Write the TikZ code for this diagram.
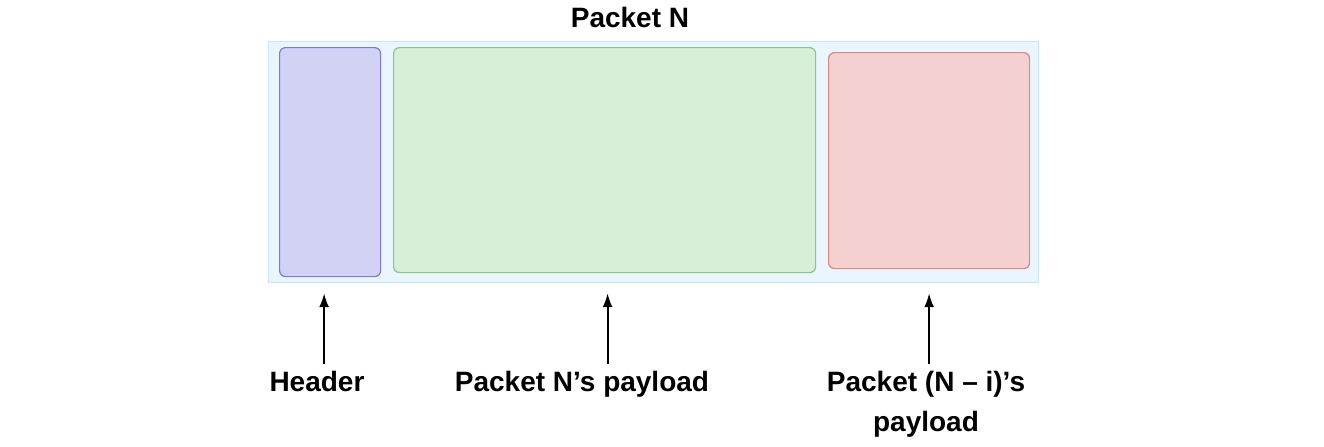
\documentclass[tikz,border=0pt]{standalone}
\usepackage{fontspec}
\setmainfont{Liberation Sans}
\usepackage{xcolor}
\definecolor{pktline}{HTML}{C6E5FF}
\definecolor{pktfill}{HTML}{EAF5FF}
\definecolor{hdrline}{HTML}{7A7ADA}
\definecolor{hdrfill}{HTML}{D2D2F5}
\definecolor{ownline}{HTML}{86C986}
\definecolor{ownfill}{HTML}{D7EED7}
\definecolor{prevline}{HTML}{DB8686}
\definecolor{prevfill}{HTML}{F5D0D0}
\usepackage{tikz}
\usetikzlibrary{arrows.meta}

\begin{document}
\begin{tikzpicture}[x=0.5pt, y=-0.5pt,
  part/.style={rectangle, rounded corners=3pt, line width=0.6pt, inner sep=0pt, anchor=north west},
  lbl/.style={font=\fontsize{14}{20}\selectfont\bfseries, align=center, anchor=north},
  pointer/.style={-{Latex[length=7pt, width=5pt]}, line width=1pt, black}
]
  \useasboundingbox (0,0) rectangle (1324,446);
  % packet frame and its three parts
  \node[part, rounded corners=0pt, draw=pktline, fill=pktfill, minimum width=385pt, minimum height=120.5pt] (pkt) at (268,41) {};
  \node[lbl, anchor=base] (title) at (630,27) {Packet N};
  \node[part, draw=hdrline, fill=hdrfill, minimum width=50.5pt, minimum height=114.5pt] (hdr) at (279,47) {};
  \node[part, draw=ownline, fill=ownfill, minimum width=211pt, minimum height=112.5pt] (own) at (393,47) {};
  \node[part, draw=prevline, fill=prevfill, minimum width=100.5pt, minimum height=108pt] (prev) at (828,52) {};
  % captions below
  \node[lbl] (hdrlbl) at (317,364) {Header};
  \node[lbl] (ownlbl) at (582,364) {Packet N’s payload};
  \node[lbl] (prevlbl) at (926,364) {Packet (N – i)’s\\payload};
  \foreach \blk/\txt/\dx in {hdr/hdrlbl/-6, own/ownlbl/3, prev/prevlbl/0}
    \draw[pointer, shorten >=5pt] ([xshift=\dx*0.5pt]\txt.north -| \blk.south) -- ([xshift=\dx*0.5pt]\blk.south |- pkt.south);
\end{tikzpicture}
\end{document}
